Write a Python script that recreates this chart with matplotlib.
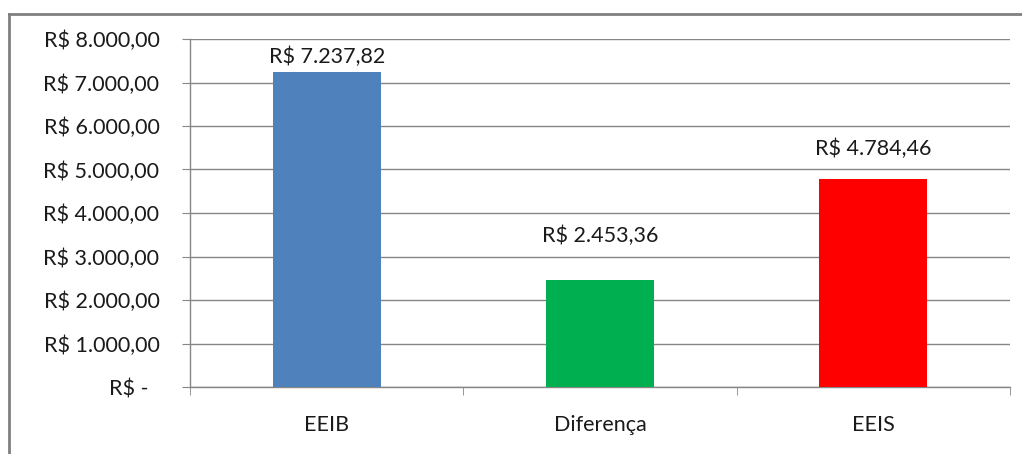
import matplotlib
matplotlib.use("Agg")
import matplotlib.pyplot as plt
from matplotlib.lines import Line2D
from matplotlib.ticker import FixedLocator

categories = ["EEIB", "Diferença", "EEIS"]
values = [7237.82, 2453.36, 4784.46]
value_labels = ["R$ 7.237,82", "R$ 2.453,36", "R$ 4.784,46"]
colors = ["#4F81BD", "#00B050", "#FF0000"]
yticks = [0, 1000, 2000, 3000, 4000, 5000, 6000, 7000, 8000]
ytick_labels = ["R$ -  ", "R$ 1.000,00", "R$ 2.000,00", "R$ 3.000,00", "R$ 4.000,00",
                "R$ 5.000,00", "R$ 6.000,00", "R$ 7.000,00", "R$ 8.000,00"]
label_offsets_pt = [6.5, 27.4, 17.3]

plt.rcParams['font.family'] = ['Lato', 'DejaVu Sans']
FS = 15.5
TXT = "#1a1a1a"
fig = plt.figure(figsize=(10.22, 4.54), dpi=100)
ax = fig.add_axes([190/1022, 1-387/454, 820/1022, 348/454])

gray = "#868686"
x = list(range(len(categories)))
ax.bar(x, values, width=0.395, color=colors, zorder=3)
for xi, v, lab, off in zip(x, values, value_labels, label_offsets_pt):
    ax.annotate(lab, (xi, v), xytext=(0, off), textcoords="offset points",
                ha="center", va="baseline", fontsize=FS, color=TXT)

ax.set_xlim(-0.5, 2.5)
ax.set_ylim(0, 8000)
ax.set_yticks(yticks)
ax.set_yticklabels(ytick_labels)
ax.set_xticks(x)
ax.set_xticklabels(categories)
ax.xaxis.set_minor_locator(FixedLocator([-0.5, 0.5, 1.5, 2.5]))
ax.tick_params(axis="x", which="major", length=0, pad=20, labelsize=FS, labelcolor=TXT)
ax.tick_params(axis="x", which="minor", length=6, color=gray, direction="out")
ax.tick_params(axis="y", length=6, color=gray, pad=16, labelsize=FS, labelcolor=TXT)
ax.grid(axis="y", color=gray, linewidth=1, zorder=0)
for s in ["top", "right"]:
    ax.spines[s].set_visible(False)
for s in ["left", "bottom"]:
    ax.spines[s].set_color(gray)
    ax.spines[s].set_linewidth(1)

# outer chart border (left and top visible)
fig.add_artist(Line2D([9/1022, 9/1022], [0, 1-14/454], transform=fig.transFigure,
                      color="#808080", linewidth=2))
fig.add_artist(Line2D([9/1022, 1], [1-14/454, 1-14/454], transform=fig.transFigure,
                      color="#808080", linewidth=2))

fig.savefig("out.png", dpi=100)
